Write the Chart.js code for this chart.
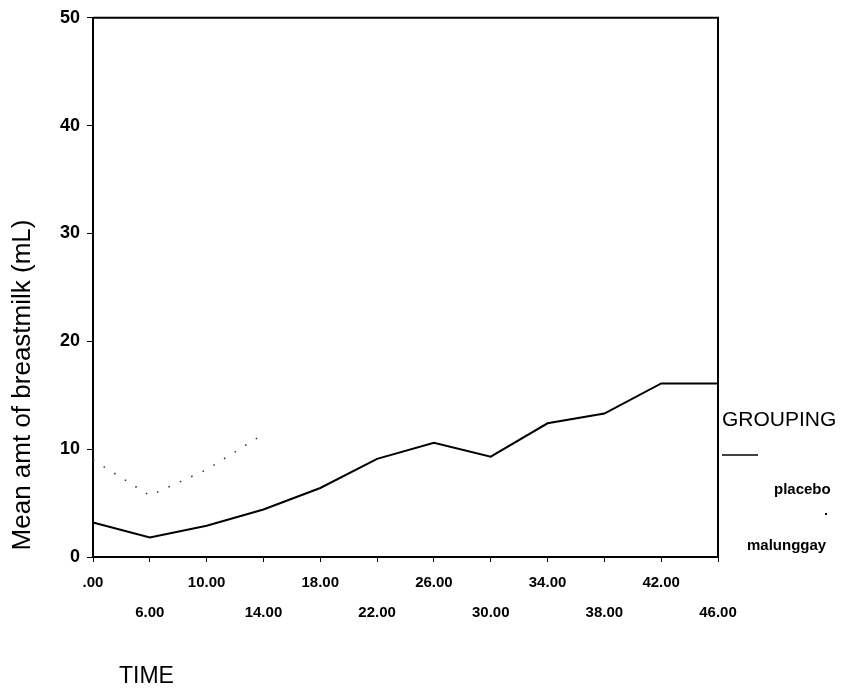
<!DOCTYPE html>
<html lang="en">
  <head>
    <meta charset="UTF-8" />
    <title>Mean amt of breastmilk</title>
    <script src="https://cdn.jsdelivr.net/npm/chart.js"></script>
    <style>
      html, body { margin: 0; padding: 0; background: #fff; }
      canvas { display: block; }
    </style>
  </head>
  <body>
    <canvas id="milkChart" width="844" height="690"></canvas>

    <script>
      // data
      const timeLabels = [".00", "6.00", "10.00", "14.00", "18.00", "22.00", "26.00", "30.00", "34.00", "38.00", "42.00", "46.00"];
      const placebo = [3.2, 1.8, 2.9, 4.4, 6.4, 9.1, 10.6, 9.3, 12.4, 13.3, 16.1, 16.1];
      // only the first part of the dotted line survives in the scan
      const malunggay = [9.0, 5.7, 8.1, 11.4, null, null, null, null, null, null, null, null];
      const yTicks = [0, 10, 20, 30, 40, 50];

      const FONT = "'Liberation Sans', Arial, sans-serif";
      const NARROW = "'Liberation Sans Narrow', 'Liberation Sans', Arial, sans-serif";

      // frame, axis titles and the GROUPING legend
      const extras = {
        id: "extras",
        afterDraw(chart) {
          const c = chart.ctx;
          const a = chart.chartArea;
          c.save();
          c.strokeStyle = "#000";
          c.lineWidth = 2;
          c.beginPath();
          c.moveTo(a.left, a.top);
          c.lineTo(a.right, a.top);
          c.lineTo(a.right, a.bottom);
          c.stroke();

          c.fillStyle = "#000";
          c.textBaseline = "middle";

          // y title
          c.save();
          c.translate(23, 385);
          c.rotate(-Math.PI / 2);
          c.textAlign = "center";
          c.font = "26px " + FONT;
          c.fillText("Mean amt of breastmilk (mL)", 0, 0);
          c.restore();

          // x title
          c.textAlign = "left";
          c.font = "23px " + FONT;
          c.fillText("TIME", 119, 677);

          // legend
          c.font = "21px " + FONT;
          c.fillText("GROUPING", 722, 420);
          c.lineWidth = 1.5;
          c.beginPath();
          c.moveTo(722, 455);
          c.lineTo(758, 455);
          c.stroke();
          c.font = "bold 15px " + NARROW;
          c.fillText("placebo", 774, 490);
          c.fillRect(825, 513, 2, 2);
          c.fillText("malunggay", 747, 546);
          c.restore();
        },
      };

      const ctx = document.getElementById("milkChart").getContext("2d");

      new Chart(ctx, {
        type: "line",
        data: {
          labels: timeLabels,
          datasets: [
            {
              label: "placebo",
              data: placebo,
              borderColor: "#000",
              borderWidth: 2,
              pointRadius: 0,
              tension: 0,
            },
            {
              label: "malunggay",
              data: malunggay,
              borderColor: "#333",
              borderWidth: 1.6,
              borderDash: [1.5, 11],
              pointRadius: 0,
              tension: 0,
              spanGaps: false,
            },
          ],
        },
        options: {
          responsive: false,
          animation: false,
          devicePixelRatio: 1,
          layout: { padding: { left: 0, top: 17, right: 126, bottom: 0 } },
          plugins: {
            legend: { display: false },
            tooltip: { enabled: false },
          },
          scales: {
            x: {
              type: "category",
              offset: false,
              border: { color: "#000", width: 2 },
              grid: { drawOnChartArea: false, drawTicks: true, tickLength: 5, color: "#000" },
              ticks: {
                autoSkip: false,
                maxRotation: 0,
                minRotation: 0,
                color: "#000",
                padding: 6,
                font: { family: NARROW, size: 15, weight: "bold", lineHeight: 2 },
                callback: (v, i) => (i % 2 === 0 ? [timeLabels[i], ""] : ["", timeLabels[i]]),
              },
              afterFit: (s) => { s.height = 133; },
            },
            y: {
              min: 0,
              max: 50,
              afterBuildTicks: (s) => { s.ticks = yTicks.map((v) => ({ value: v })); },
              border: { color: "#000", width: 2 },
              grid: { drawOnChartArea: false, drawTicks: true, tickLength: 6, color: "#000" },
              ticks: {
                color: "#000",
                padding: 7,
                font: { family: FONT, size: 18, weight: "bold" },
              },
              afterFit: (s) => { s.width = 93; },
            },
          },
        },
        plugins: [extras],
      });
    </script>
  </body>
</html>
